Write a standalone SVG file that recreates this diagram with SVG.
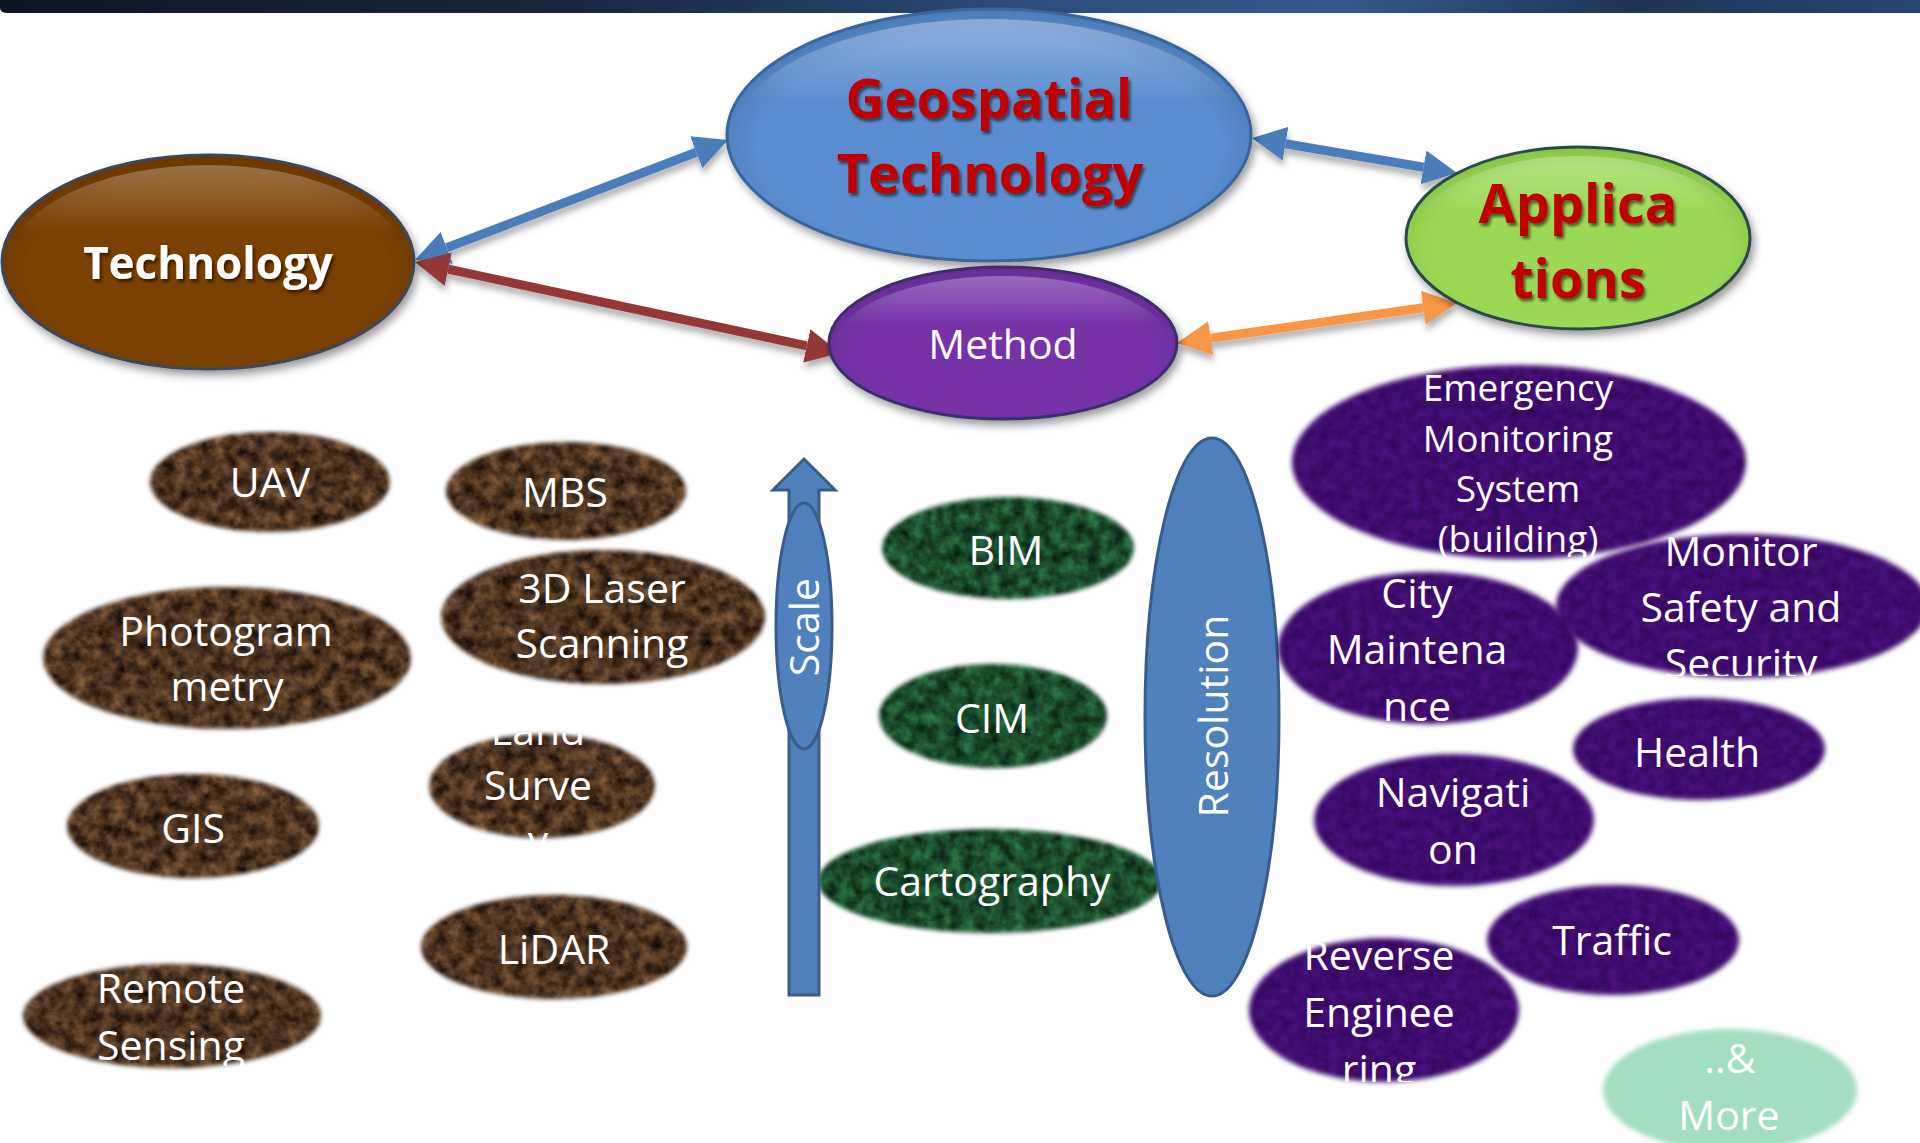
<svg xmlns="http://www.w3.org/2000/svg" width="1920" height="1143" viewBox="0 0 1920 1143">
<defs>
<style>
.t{font-family:"Open Sans","Liberation Sans",sans-serif;font-size:41px;fill:#ffffff;text-anchor:middle}
.e{font-size:37px}
.title{font-family:"Open Sans","Liberation Sans",sans-serif;font-weight:700;font-size:54px;fill:#c00000;text-anchor:middle}
.wt{font-family:"Open Sans","Liberation Sans",sans-serif;font-weight:700;font-size:44px;fill:#ffffff;text-anchor:middle}
.blk{fill:#4f81bd;stroke:#385d8a;stroke-width:3}
.brown{fill:#000;filter:url(#fBrown)}
.green{fill:#000;filter:url(#fGreen)}
.purple{fill:#000;filter:url(#fPurple)}
</style>
<linearGradient id="band" x1="0" y1="0" x2="1" y2="0">
<stop offset="0" stop-color="#0e1522"/>
<stop offset="0.3" stop-color="#18263d"/>
<stop offset="0.55" stop-color="#2c4f7f"/>
<stop offset="0.7" stop-color="#35598a"/>
<stop offset="0.85" stop-color="#1f3356"/>
<stop offset="1" stop-color="#2a4570"/>
</linearGradient>
<radialGradient id="gGeo" cx="0.5" cy="0.55" r="0.55">
<stop offset="0.8" stop-color="#5a8ed0"/>
<stop offset="1" stop-color="#4a7bb8"/>
</radialGradient>
<radialGradient id="gTech" cx="0.5" cy="0.55" r="0.55">
<stop offset="0.8" stop-color="#7a3f02"/>
<stop offset="1" stop-color="#6b3704"/>
</radialGradient>
<radialGradient id="gApp" cx="0.5" cy="0.55" r="0.55">
<stop offset="0.8" stop-color="#9bd955"/>
<stop offset="1" stop-color="#86c248"/>
</radialGradient>
<radialGradient id="gMeth" cx="0.5" cy="0.55" r="0.55">
<stop offset="0.8" stop-color="#7733a8"/>
<stop offset="1" stop-color="#652b94"/>
</radialGradient>
<linearGradient id="hl" x1="0" y1="0" x2="0" y2="1">
<stop offset="0" stop-color="#ffffff" stop-opacity="0.55"/>
<stop offset="0.35" stop-color="#ffffff" stop-opacity="0"/>
</linearGradient>
<filter id="shadow" x="-10%" y="-10%" width="125%" height="130%">
<feDropShadow dx="3" dy="5" stdDeviation="4" flood-color="#000" flood-opacity="0.4"/>
</filter>
<filter id="ashadow" x="-10%" y="-30%" width="120%" height="160%">
<feDropShadow dx="1" dy="6" stdDeviation="3" flood-color="#000" flood-opacity="0.3"/>
</filter>
<filter id="tshadow" x="-10%" y="-20%" width="120%" height="150%">
<feDropShadow dx="2" dy="3" stdDeviation="1.5" flood-color="#000" flood-opacity="0.55"/>
</filter>
<filter id="fBrown" x="-4%" y="-8%" width="108%" height="116%" color-interpolation-filters="sRGB">
<feTurbulence type="fractalNoise" baseFrequency="0.08" numOctaves="4" seed="7" result="n"/>
<feColorMatrix in="n" type="matrix" values="0.6 0 0 0 0  0.45 0 0 0 -0.02  0.3 0 0 0 -0.02  0 0 0 0 1" result="c"/>
<feGaussianBlur in="SourceAlpha" stdDeviation="2" result="a"/>
<feComposite in="c" in2="a" operator="in"/>
</filter>
<filter id="fGreen" x="-4%" y="-8%" width="108%" height="116%" color-interpolation-filters="sRGB">
<feTurbulence type="fractalNoise" baseFrequency="0.08" numOctaves="4" seed="3" result="n"/>
<feColorMatrix in="n" type="matrix" values="0.2 0 0 0 0  0.5 0 0 0 0.05  0.3 0 0 0 0.02  0 0 0 0 1" result="c"/>
<feGaussianBlur in="SourceAlpha" stdDeviation="2" result="a"/>
<feComposite in="c" in2="a" operator="in"/>
</filter>
<filter id="fPurple" x="-4%" y="-8%" width="108%" height="116%" color-interpolation-filters="sRGB">
<feTurbulence type="fractalNoise" baseFrequency="0.1" numOctaves="3" seed="11" result="n"/>
<feColorMatrix in="n" type="matrix" values="0.15 0 0 0 0.165  0.05 0 0 0 0.02  0.2 0 0 0 0.33  0 0 0 0 1" result="c"/>
<feGaussianBlur in="SourceAlpha" stdDeviation="2.5" result="a"/>
<feComposite in="c" in2="a" operator="in"/>
</filter>
<filter id="fSoft" x="-5%" y="-10%" width="110%" height="120%">
<feGaussianBlur stdDeviation="2.5"/>
</filter>
<marker id="mBlue" markerUnits="userSpaceOnUse" markerWidth="34" markerHeight="34" viewBox="0 0 34 34" refX="0" refY="17" orient="auto-start-reverse"><path d="M0,0 L34,17 L0,34 Z" fill="#4a7ebb"/></marker>
<marker id="mRed" markerUnits="userSpaceOnUse" markerWidth="34" markerHeight="34" viewBox="0 0 34 34" refX="0" refY="17" orient="auto-start-reverse"><path d="M0,0 L34,17 L0,34 Z" fill="#953735"/></marker>
<marker id="mOrange" markerUnits="userSpaceOnUse" markerWidth="34" markerHeight="34" viewBox="0 0 34 34" refX="0" refY="17" orient="auto-start-reverse"><path d="M0,0 L34,17 L0,34 Z" fill="#f79646"/></marker>
<clipPath id="cLand"><rect x="420" y="732" width="250" height="113"/></clipPath>
<clipPath id="cRemote"><rect x="15" y="960" width="320" height="106"/></clipPath>
<clipPath id="cEmerg"><rect x="1280" y="362" width="480" height="195"/></clipPath>
<clipPath id="cMonitor"><rect x="1550" y="537" width="370" height="139"/></clipPath>
<clipPath id="cCity"><rect x="1270" y="570" width="320" height="156"/></clipPath>
<clipPath id="cReverse"><rect x="1245" y="943" width="280" height="139"/></clipPath>
<clipPath id="cMore"><rect x="1600" y="1028" width="260" height="115"/></clipPath>
</defs>

<rect x="0" y="0" width="1920" height="1143" fill="#ffffff"/>
<path d="M0,0 L1920,0 L1920,13 L8,13 Q0,13 0,8 Z" fill="url(#band)"/>

<g id="connectors">
<g filter="url(#ashadow)">
<line x1="446.7" y1="247.8" x2="696.3" y2="152.2" stroke="#4a7ebb" stroke-width="9" marker-start="url(#mBlue)" marker-end="url(#mBlue)"/>
<line x1="1285.5" y1="143.7" x2="1423.5" y2="167.3" stroke="#4a7ebb" stroke-width="9" marker-start="url(#mBlue)" marker-end="url(#mBlue)"/>
<line x1="448.2" y1="269.1" x2="806.8" y2="345.9" stroke="#953735" stroke-width="9" marker-start="url(#mRed)" marker-end="url(#mRed)"/>
<line x1="1210.7" y1="338.2" x2="1423.3" y2="307.8" stroke="#f79646" stroke-width="9" marker-start="url(#mOrange)" marker-end="url(#mOrange)"/>
</g>
</g>

<g id="node-geospatial">
<ellipse cx="989" cy="135" rx="262" ry="126" fill="url(#gGeo)" stroke="#3a6598" stroke-width="3" filter="url(#shadow)"/>
<ellipse cx="989" cy="137" rx="255" ry="118" fill="url(#hl)" opacity="0.6"/>
<text class="title" x="989" y="118" filter="url(#tshadow)">Geospatial</text>
<text class="title" x="990" y="193" filter="url(#tshadow)">Technology</text>
</g>

<g id="node-technology">
<ellipse cx="208" cy="262" rx="206" ry="107" fill="url(#gTech)" stroke="#3c4658" stroke-width="3" filter="url(#shadow)"/>
<ellipse cx="208" cy="264" rx="199" ry="99" fill="url(#hl)" opacity="0.5"/>
<text class="wt" x="208" y="279" filter="url(#tshadow)">Technology</text>
</g>

<g id="node-applications">
<ellipse cx="1578" cy="238" rx="172" ry="91" fill="url(#gApp)" stroke="#2c4a48" stroke-width="3" filter="url(#shadow)"/>
<ellipse cx="1578" cy="240" rx="165" ry="84" fill="url(#hl)" opacity="0.5"/>
<text class="title" x="1578" y="223" filter="url(#tshadow)">Applica</text>
<text class="title" x="1578" y="298" filter="url(#tshadow)">tions</text>
</g>

<g id="node-method">
<ellipse cx="1003" cy="343" rx="174" ry="76" fill="url(#gMeth)" stroke="#3b2f6b" stroke-width="3" filter="url(#shadow)"/>
<ellipse cx="1003" cy="345" rx="167" ry="69" fill="url(#hl)" opacity="0.5"/>
<text class="t" x="1003" y="359">Method</text>
</g>

<g id="node-uav">
<ellipse class="brown" cx="270" cy="482" rx="120" ry="50"/>
<text class="t" x="270" y="497">UAV</text>
</g>
<g id="node-mbs">
<ellipse class="brown" cx="566" cy="491" rx="120" ry="49"/>
<text class="t" x="565" y="507">MBS</text>
</g>
<g id="node-photogrammetry">
<ellipse class="brown" cx="227" cy="658" rx="184" ry="71"/>
<text class="t" x="226" y="646">Photogram</text>
<text class="t" x="227" y="701">metry</text>
</g>
<g id="node-laser">
<ellipse class="brown" cx="603" cy="617" rx="162" ry="67"/>
<text class="t" x="602" y="603">3D Laser</text>
<text class="t" x="602" y="658">Scanning</text>
</g>
<g id="node-landsurvey">
<ellipse class="brown" cx="542" cy="786" rx="113" ry="52"/>
<g clip-path="url(#cLand)">
<text class="t" x="538" y="745">Land</text>
<text class="t" x="538" y="800">Surve</text>
<text class="t" x="538" y="855">y</text>
</g>
</g>
<g id="node-gis">
<ellipse class="brown" cx="193" cy="826" rx="126" ry="52"/>
<text class="t" x="193" y="843">GIS</text>
</g>
<g id="node-lidar">
<ellipse class="brown" cx="554" cy="947" rx="133" ry="52"/>
<text class="t" x="554" y="964">LiDAR</text>
</g>
<g id="node-remote">
<ellipse class="brown" cx="172" cy="1016" rx="149" ry="52"/>
<g clip-path="url(#cRemote)">
<text class="t" x="171" y="1003">Remote</text>
<text class="t" x="171" y="1060">Sensing</text>
</g>
</g>

<g id="node-bim">
<ellipse class="green" cx="1008" cy="548" rx="126" ry="51"/>
<text class="t" x="1006" y="565">BIM</text>
</g>
<g id="node-cim">
<ellipse class="green" cx="993" cy="716" rx="114" ry="52"/>
<text class="t" x="992" y="733">CIM</text>
</g>
<g id="node-cartography">
<ellipse class="green" cx="990" cy="881" rx="172" ry="52"/>
<text class="t" x="992" y="896">Cartography</text>
</g>

<g id="node-scale">
<polygon class="blk" points="789,995 819,995 819,490 835,490 804,459 773,490 789,490"/>
<ellipse class="blk" cx="804" cy="626" rx="28" ry="123"/>
<text class="t" transform="translate(819,627) rotate(-90)" x="0" y="0">Scale</text>
</g>

<g id="node-resolution">
<ellipse class="blk" cx="1212" cy="717" rx="67" ry="279"/>
<text class="t" transform="translate(1228,716) rotate(-90)" x="0" y="0">Resolution</text>
</g>

<g id="node-emergency">
<ellipse class="purple" cx="1519" cy="462" rx="227" ry="97"/>
<g clip-path="url(#cEmerg)">
<text class="t e" x="1518" y="401">Emergency</text>
<text class="t e" x="1518" y="452">Monitoring</text>
<text class="t e" x="1518" y="502">System</text>
<text class="t e" x="1518" y="552">(building)</text>
</g>
</g>
<g id="node-city">
<ellipse class="purple" cx="1428" cy="648" rx="150" ry="76"/>
<g clip-path="url(#cCity)">
<text class="t" x="1417" y="608">City</text>
<text class="t" x="1417" y="664">Maintena</text>
<text class="t" x="1417" y="721">nce</text>
</g>
</g>
<g id="node-monitor">
<ellipse class="purple" cx="1742" cy="606" rx="186" ry="72"/>
<g clip-path="url(#cMonitor)">
<text class="t" x="1741" y="566">Monitor</text>
<text class="t" x="1741" y="622">Safety and</text>
<text class="t" x="1741" y="678">Security</text>
</g>
</g>
<g id="node-health">
<ellipse class="purple" cx="1699" cy="749" rx="126" ry="51"/>
<text class="t" x="1697" y="767">Health</text>
</g>
<g id="node-navigation">
<ellipse class="purple" cx="1454" cy="820" rx="140" ry="66"/>
<text class="t" x="1453" y="807">Navigati</text>
<text class="t" x="1453" y="864">on</text>
</g>
<g id="node-traffic">
<ellipse class="purple" cx="1613" cy="940" rx="126" ry="55"/>
<text class="t" x="1612" y="955">Traffic</text>
</g>
<g id="node-reverse">
<ellipse class="purple" cx="1384" cy="1010" rx="135" ry="72"/>
<g clip-path="url(#cReverse)">
<text class="t" x="1379" y="970">Reverse</text>
<text class="t" x="1379" y="1027">Enginee</text>
<text class="t" x="1379" y="1084">ring</text>
</g>
</g>
<g id="node-more">
<ellipse cx="1730" cy="1090" rx="127" ry="61" fill="#a3dec0" filter="url(#fSoft)"/>
<g clip-path="url(#cMore)">
<text class="t" x="1730" y="1073">..&amp;</text>
<text class="t" x="1729" y="1130">More</text>
</g>
</g>
</svg>
